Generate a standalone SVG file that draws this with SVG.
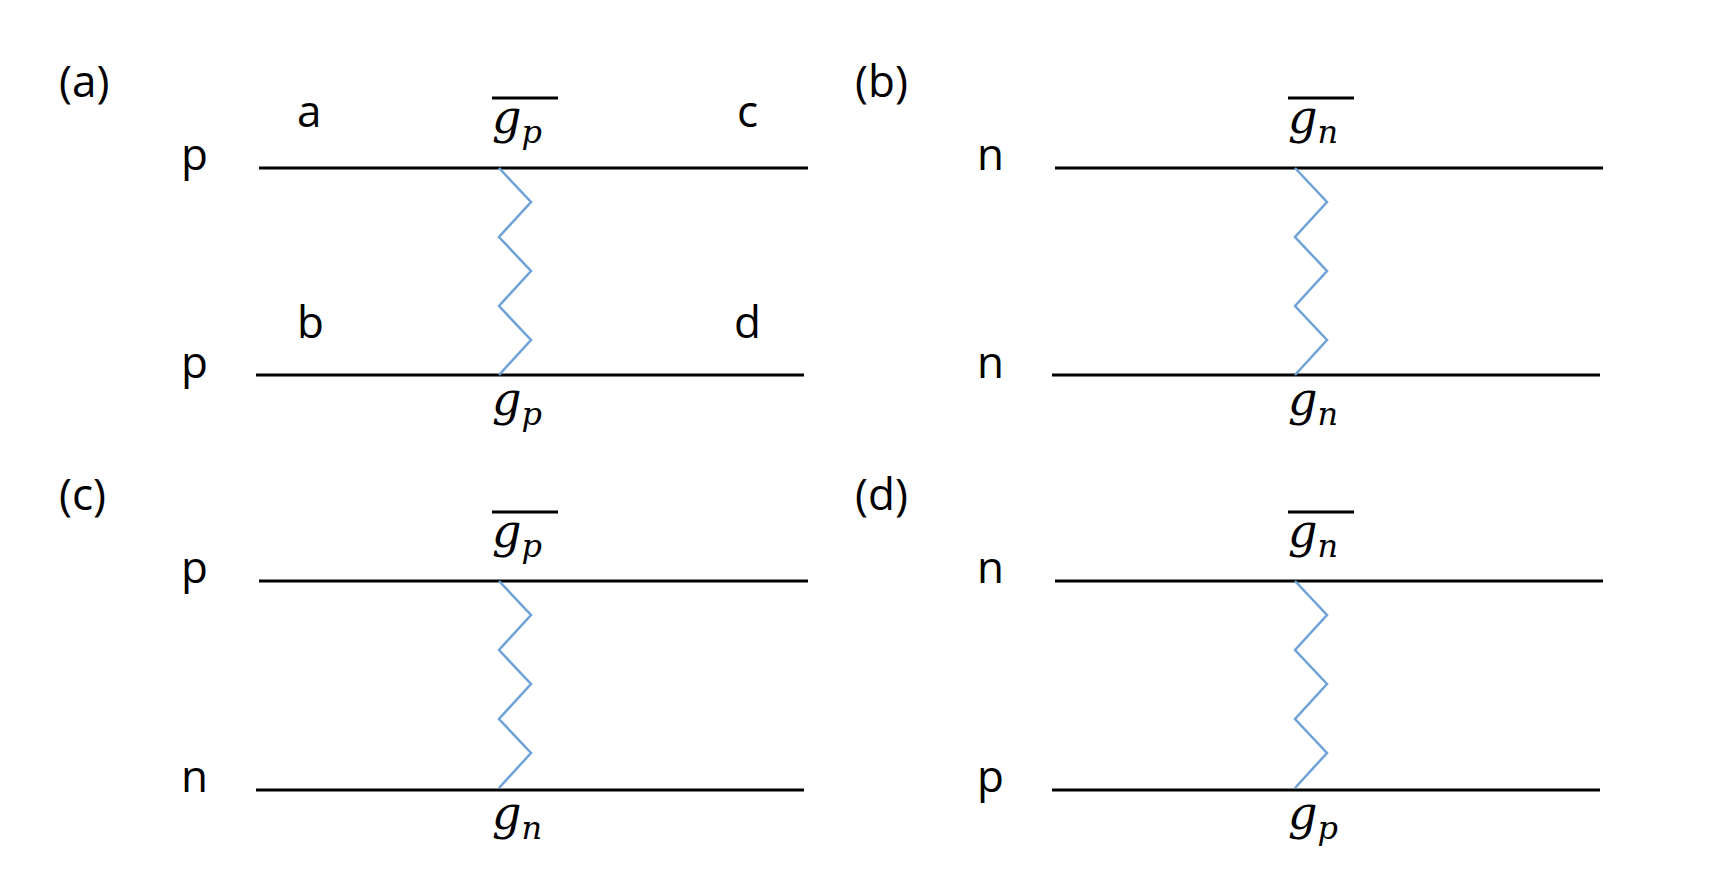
<svg xmlns="http://www.w3.org/2000/svg" width="1734" height="886" viewBox="0 0 1734 886">
<style>
.t{font-family:"Open Sans","Liberation Sans",sans-serif;font-size:44px;fill:#000}
.m{font-family:"DejaVu Serif","Liberation Serif",serif;font-style:italic;font-size:46px;fill:#000}
.s{font-size:32px}
.l{stroke:#000;stroke-width:3;fill:none}
.z{stroke:#6fa2d8;stroke-width:2.5;fill:none}
</style>
<rect width="1734" height="886" fill="#fff"/>
<defs>
<g id="zz"><polyline class="z" points="0,0 32,34 0,69 32,103 0,138 32,172 0,207"/></g>
</defs>
<g id="connectors">
<line class="l" x1="259" y1="168" x2="808" y2="168"/>
<line class="l" x1="256" y1="375" x2="804" y2="375"/>
<line class="l" x1="1055" y1="168" x2="1603" y2="168"/>
<line class="l" x1="1052" y1="375" x2="1600" y2="375"/>
<line class="l" x1="259" y1="581" x2="808" y2="581"/>
<line class="l" x1="256" y1="790" x2="804" y2="790"/>
<line class="l" x1="1055" y1="581" x2="1603" y2="581"/>
<line class="l" x1="1052" y1="790" x2="1600" y2="790"/>
<use href="#zz" x="499" y="168"/>
<use href="#zz" x="1295" y="168"/>
<use href="#zz" x="499" y="581" transform="translate(0,0) scale(1,1)"/>
<use href="#zz" x="1295" y="581"/>
</g>
<g id="panel-a">
<text class="t" x="59" y="97">(a)</text>
<text class="t" x="181" y="170">p</text>
<text class="t" x="181" y="378">p</text>
<text class="t" x="297" y="127">a</text>
<text class="t" x="737" y="127">c</text>
<text class="t" x="297" y="338">b</text>
<text class="t" x="734" y="338">d</text>
<line class="l" x1="492" y1="98" x2="558" y2="98"/>
<text class="m" x="492" y="133">g<tspan class="s" dy="10">p</tspan></text>
<text class="m" x="492" y="415">g<tspan class="s" dy="10">p</tspan></text>
</g>
<g id="panel-b">
<text class="t" x="855" y="97">(b)</text>
<text class="t" x="977" y="170">n</text>
<text class="t" x="977" y="378">n</text>
<line class="l" x1="1288" y1="98" x2="1354" y2="98"/>
<text class="m" x="1288" y="133">g<tspan class="s" dy="10">n</tspan></text>
<text class="m" x="1288" y="415">g<tspan class="s" dy="10">n</tspan></text>
</g>
<g id="panel-c">
<text class="t" x="59" y="510">(c)</text>
<text class="t" x="181" y="583">p</text>
<text class="t" x="181" y="792">n</text>
<line class="l" x1="492" y1="512" x2="558" y2="512"/>
<text class="m" x="492" y="547">g<tspan class="s" dy="10">p</tspan></text>
<text class="m" x="492" y="829">g<tspan class="s" dy="10">n</tspan></text>
</g>
<g id="panel-d">
<text class="t" x="855" y="510">(d)</text>
<text class="t" x="977" y="583">n</text>
<text class="t" x="977" y="792">p</text>
<line class="l" x1="1288" y1="512" x2="1354" y2="512"/>
<text class="m" x="1288" y="547">g<tspan class="s" dy="10">n</tspan></text>
<text class="m" x="1288" y="829">g<tspan class="s" dy="10">p</tspan></text>
</g>
</svg>
